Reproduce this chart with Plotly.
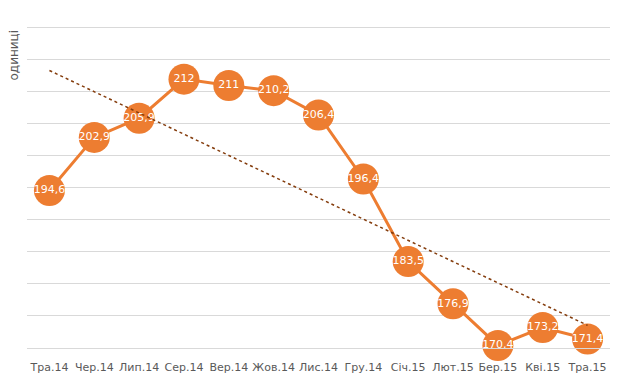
import numpy as np
import plotly.graph_objects as go

categories = ["Тра.14", "Чер.14", "Лип.14", "Сер.14", "Вер.14", "Жов.14", "Лис.14",
              "Гру.14", "Січ.15", "Лют.15", "Бер.15", "Кві.15", "Тра.15"]
values = [194.6, 202.9, 205.9, 212, 211, 210.2, 206.4, 196.4, 183.5, 176.9, 170.4, 173.2, 171.4]
labels = [f"{v:g}".replace(".", ",") for v in values]

x_idx = np.arange(len(values))
slope, intercept = np.polyfit(x_idx, values, 1)
trend = slope * x_idx + intercept

fig = go.Figure()
fig.add_trace(go.Scatter(
    x=categories, y=values, mode="lines+markers+text",
    line=dict(color="#ED7D31", width=3),
    marker=dict(color="#ED7D31", size=31),
    text=labels, textposition="middle center",
    textfont=dict(color="white", size=11, family="DejaVu Sans"),
    cliponaxis=False, hoverinfo="skip"))
fig.add_trace(go.Scatter(
    x=categories, y=trend, mode="lines",
    line=dict(color="#843C0C", width=1.5, dash="dot"),
    hoverinfo="skip"))

# page body has an 8px default margin: compensate in size and margins
fig.update_layout(
    width=618, height=377, showlegend=False,
    margin=dict(l=19, r=16, t=18, b=37),
    plot_bgcolor="white", paper_bgcolor="white",
    font=dict(family="DejaVu Sans", color="#595959", size=11),
    xaxis=dict(type="category", range=[-0.5, 12.5], showgrid=False,
               showline=True, linecolor="#D9D9D9", linewidth=1,
               ticks="outside", ticklen=9, tickcolor="rgba(0,0,0,0)",
               tickfont=dict(size=11, color="#595959")),
    yaxis=dict(range=[170, 220.3], dtick=5, tick0=170, showgrid=True, gridcolor="#D9D9D9",
               gridwidth=1, showticklabels=False, zeroline=False, ticks=""),
    annotations=[dict(text="одиниці", textangle=-90, xref="paper", yref="paper",
                      x=0, y=1, xanchor="right", yanchor="top", xshift=-5, yshift=-2,
                      showarrow=False, font=dict(size=12, color="#595959"))],
)
fig.write_html("out.html")
